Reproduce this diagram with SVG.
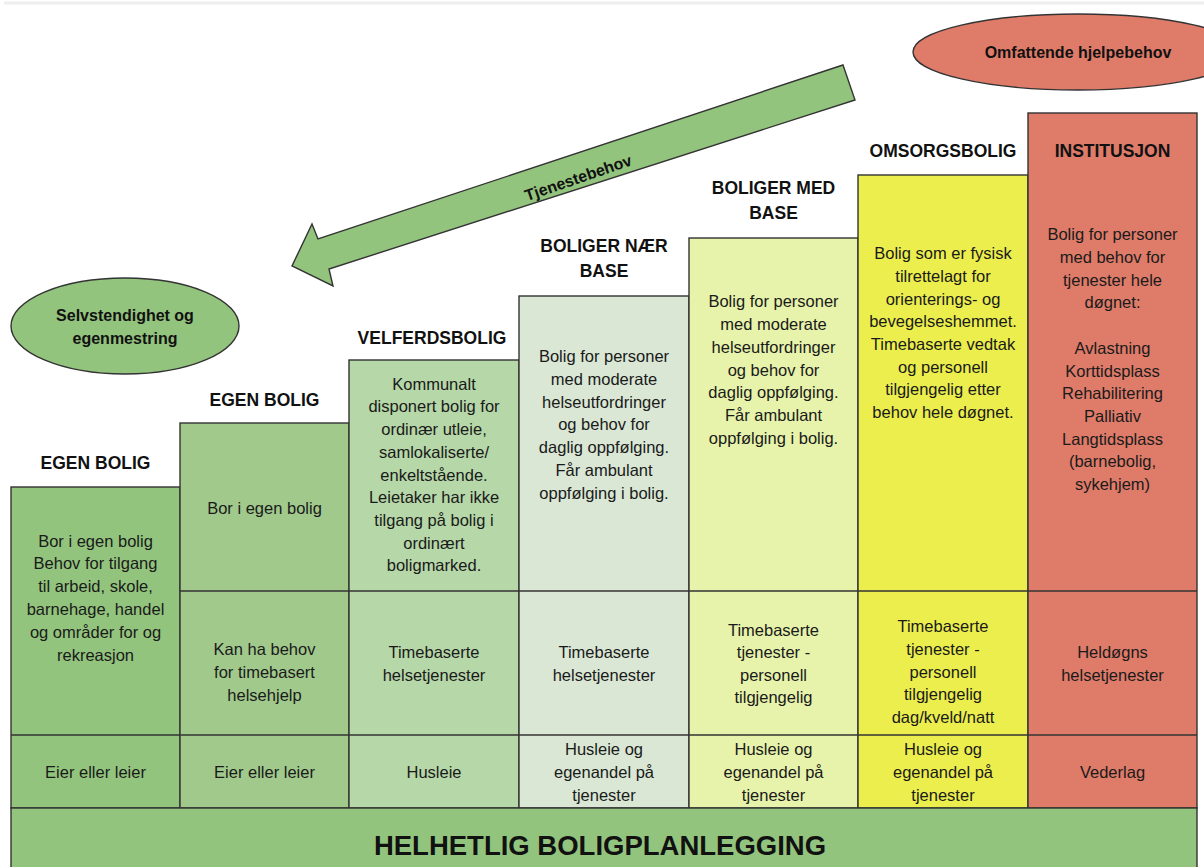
<svg xmlns="http://www.w3.org/2000/svg" width="1204" height="867" viewBox="0 0 1204 867">
<style>
.col{stroke:#333;stroke-width:1.4}
.sep{stroke:#333;stroke-width:1.4;fill:none}
.t{font-family:"Liberation Sans",Arial,sans-serif;font-size:16.5px;fill:#1a1a1a;text-anchor:middle}
.h{font-family:"Liberation Sans",Arial,sans-serif;font-size:17.5px;font-weight:bold;fill:#111;text-anchor:middle}
.e{font-family:"Liberation Sans",Arial,sans-serif;font-size:16px;font-weight:bold;fill:#111;text-anchor:middle}
.g1{fill:#93c47d}.g2{fill:#a1c98c}.g3{fill:#b6d7a8}.g4{fill:#d9e7d4}.g5{fill:#e7f3aa}.g6{fill:#ecee4d}.r7{fill:#df7b69}
</style>
<rect x="0" y="0" width="1204" height="867" fill="#fff"/>
<line x1="4" y1="3" x2="1204" y2="3" stroke="#eeeeee" stroke-width="3"/>

<g id="ellipse-omfattende">
<ellipse cx="1078" cy="52" rx="165" ry="38" class="r7" stroke="#333" stroke-width="1.4"/>
<text class="e" x="1078" y="58">Omfattende hjelpebehov</text>
</g>

<g id="ellipse-selvstendighet">
<ellipse cx="125" cy="326" rx="114" ry="48" class="g1" stroke="#333" stroke-width="1.4"/>
<text class="e" x="125" y="321">Selvstendighet og</text>
<text class="e" x="125" y="344">egenmestring</text>
</g>

<g id="connectors">
<g id="arrow-tjenestebehov">
<polygon points="843,65 855,100 329,269 333,286 292,266 312,224 318,239" class="g1" stroke="#333" stroke-width="1.4" stroke-linejoin="miter"/>
<text class="e" x="0" y="0" transform="translate(580,183) rotate(-19)">Tjenestebehov</text>
</g>
</g>

<g id="col-egen-bolig-1">
<rect x="11" y="487" width="169" height="321" class="col g1"/>
<line x1="11" y1="735" x2="180" y2="735" class="sep"/>
<text class="h" x="95.5" y="469">EGEN BOLIG</text>
<text class="t" x="95.5" y="547">Bor i egen bolig</text>
<text class="t" x="95.5" y="569">Behov for tilgang</text>
<text class="t" x="95.5" y="592">til arbeid, skole,</text>
<text class="t" x="95.5" y="615">barnehage, handel</text>
<text class="t" x="95.5" y="638">og områder for og</text>
<text class="t" x="95.5" y="661">rekreasjon</text>
<text class="t" x="95.5" y="778">Eier eller leier</text>
</g>

<g id="col-egen-bolig-2">
<rect x="180" y="423" width="169" height="385" class="col g2"/>
<line x1="180" y1="591" x2="349" y2="591" class="sep"/>
<line x1="180" y1="735" x2="349" y2="735" class="sep"/>
<text class="h" x="264.5" y="406">EGEN BOLIG</text>
<text class="t" x="264.5" y="514">Bor i egen bolig</text>
<text class="t" x="264.5" y="655">Kan ha behov</text>
<text class="t" x="264.5" y="678">for timebasert</text>
<text class="t" x="264.5" y="701">helsehjelp</text>
<text class="t" x="264.5" y="778">Eier eller leier</text>
</g>

<g id="col-velferdsbolig">
<rect x="349" y="360" width="170" height="448" class="col g3"/>
<line x1="349" y1="591" x2="519" y2="591" class="sep"/>
<line x1="349" y1="735" x2="519" y2="735" class="sep"/>
<text class="h" x="432" y="344">VELFERDSBOLIG</text>
<text class="t" x="434" y="390">Kommunalt</text>
<text class="t" x="434" y="412">disponert bolig for</text>
<text class="t" x="434" y="435">ordinær utleie,</text>
<text class="t" x="434" y="458">samlokaliserte/</text>
<text class="t" x="434" y="481">enkeltstående.</text>
<text class="t" x="434" y="503">Leietaker har ikke</text>
<text class="t" x="434" y="526">tilgang på bolig i</text>
<text class="t" x="434" y="549">ordinært</text>
<text class="t" x="434" y="571">boligmarked.</text>
<text class="t" x="434" y="658">Timebaserte</text>
<text class="t" x="434" y="681">helsetjenester</text>
<text class="t" x="434" y="778">Husleie</text>
</g>

<g id="col-boliger-naer-base">
<rect x="519" y="296" width="170" height="512" class="col g4"/>
<line x1="519" y1="591" x2="689" y2="591" class="sep"/>
<line x1="519" y1="735" x2="689" y2="735" class="sep"/>
<text class="h" x="604" y="252">BOLIGER NÆR</text>
<text class="h" x="604" y="277">BASE</text>
<text class="t" x="604" y="362">Bolig for personer</text>
<text class="t" x="604" y="385">med moderate</text>
<text class="t" x="604" y="408">helseutfordringer</text>
<text class="t" x="604" y="430">og behov for</text>
<text class="t" x="604" y="453">daglig oppfølging.</text>
<text class="t" x="604" y="476">Får ambulant</text>
<text class="t" x="604" y="499">oppfølging i bolig.</text>
<text class="t" x="604" y="658">Timebaserte</text>
<text class="t" x="604" y="681">helsetjenester</text>
<text class="t" x="604" y="755">Husleie og</text>
<text class="t" x="604" y="778">egenandel på</text>
<text class="t" x="604" y="801">tjenester</text>
</g>

<g id="col-boliger-med-base">
<rect x="689" y="238" width="169" height="570" class="col g5"/>
<line x1="689" y1="591" x2="858" y2="591" class="sep"/>
<line x1="689" y1="735" x2="858" y2="735" class="sep"/>
<text class="h" x="773.5" y="194">BOLIGER MED</text>
<text class="h" x="773.5" y="219">BASE</text>
<text class="t" x="773.5" y="307">Bolig for personer</text>
<text class="t" x="773.5" y="330">med moderate</text>
<text class="t" x="773.5" y="353">helseutfordringer</text>
<text class="t" x="773.5" y="376">og behov for</text>
<text class="t" x="773.5" y="398">daglig oppfølging.</text>
<text class="t" x="773.5" y="421">Får ambulant</text>
<text class="t" x="773.5" y="444">oppfølging i bolig.</text>
<text class="t" x="773.5" y="636">Timebaserte</text>
<text class="t" x="773.5" y="658">tjenester -</text>
<text class="t" x="773.5" y="681">personell</text>
<text class="t" x="773.5" y="703">tilgjengelig</text>
<text class="t" x="773.5" y="755">Husleie og</text>
<text class="t" x="773.5" y="778">egenandel på</text>
<text class="t" x="773.5" y="801">tjenester</text>
</g>

<g id="col-omsorgsbolig">
<rect x="858" y="175" width="170" height="633" class="col g6"/>
<line x1="858" y1="591" x2="1028" y2="591" class="sep"/>
<line x1="858" y1="735" x2="1028" y2="735" class="sep"/>
<text class="h" x="943" y="157">OMSORGSBOLIG</text>
<text class="t" x="943" y="259">Bolig som er fysisk</text>
<text class="t" x="943" y="282">tilrettelagt for</text>
<text class="t" x="943" y="305">orienterings- og</text>
<text class="t" x="943" y="327">bevegelseshemmet.</text>
<text class="t" x="943" y="350">Timebaserte vedtak</text>
<text class="t" x="943" y="373">og personell</text>
<text class="t" x="943" y="395">tilgjengelig etter</text>
<text class="t" x="943" y="418">behov hele døgnet.</text>
<text class="t" x="943" y="632">Timebaserte</text>
<text class="t" x="943" y="655">tjenester -</text>
<text class="t" x="943" y="678">personell</text>
<text class="t" x="943" y="700">tilgjengelig</text>
<text class="t" x="943" y="723">dag/kveld/natt</text>
<text class="t" x="943" y="755">Husleie og</text>
<text class="t" x="943" y="778">egenandel på</text>
<text class="t" x="943" y="801">tjenester</text>
</g>

<g id="col-institusjon">
<rect x="1028" y="113" width="169" height="695" class="col r7"/>
<line x1="1028" y1="591" x2="1197" y2="591" class="sep"/>
<line x1="1028" y1="735" x2="1197" y2="735" class="sep"/>
<text class="h" x="1112.5" y="157">INSTITUSJON</text>
<text class="t" x="1112.5" y="240">Bolig for personer</text>
<text class="t" x="1112.5" y="263">med behov for</text>
<text class="t" x="1112.5" y="286">tjenester hele</text>
<text class="t" x="1112.5" y="308">døgnet:</text>
<text class="t" x="1112.5" y="354">Avlastning</text>
<text class="t" x="1112.5" y="377">Korttidsplass</text>
<text class="t" x="1112.5" y="399">Rehabilitering</text>
<text class="t" x="1112.5" y="422">Palliativ</text>
<text class="t" x="1112.5" y="445">Langtidsplass</text>
<text class="t" x="1112.5" y="467">(barnebolig,</text>
<text class="t" x="1112.5" y="490">sykehjem)</text>
<text class="t" x="1112.5" y="658">Heldøgns</text>
<text class="t" x="1112.5" y="681">helsetjenester</text>
<text class="t" x="1112.5" y="778">Vederlag</text>
</g>

<g id="bottom-bar">
<rect x="11" y="808" width="1186" height="70" class="col g1"/>
<text x="600" y="855" font-family="'Liberation Sans',Arial,sans-serif" font-size="27.5" font-weight="bold" fill="#111" text-anchor="middle">HELHETLIG BOLIGPLANLEGGING</text>
</g>
</svg>
